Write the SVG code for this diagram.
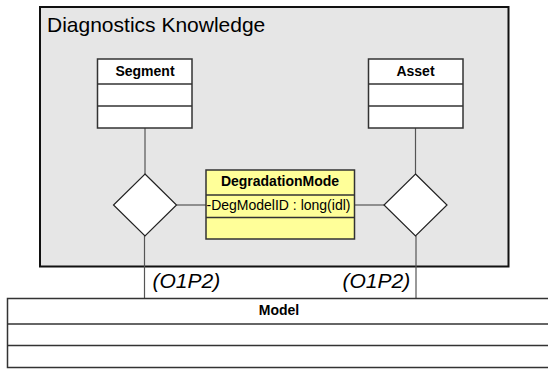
<svg xmlns="http://www.w3.org/2000/svg" width="548" height="372" viewBox="0 0 548 372">
<style>
.pkg{fill:#e6e6e6;stroke:#111;stroke-width:2}
.cls{fill:#fff;stroke:#333;stroke-width:1.5}
.yel{fill:#ffff99;stroke:#333;stroke-width:1.5}
.div{stroke:#333;stroke-width:1.5;fill:none}
.dia{fill:#fff;stroke:#222;stroke-width:1.2}
.con{stroke:#555;stroke-width:1.2;fill:none}
.t{font-family:"Liberation Sans",Arial,sans-serif;fill:#000}
.b{font-weight:bold;font-size:14px;text-anchor:middle}
</style>
<rect width="548" height="372" fill="#fff"/>
<g id="package">
<rect class="pkg" x="40" y="7" width="468.5" height="259.5"/>
<text class="t" x="47" y="32" font-size="21">Diagnostics Knowledge</text>
</g>
<g id="connectors">
<line class="con" x1="145" y1="128" x2="145" y2="174"/>
<line class="con" x1="415.5" y1="128" x2="415.5" y2="174"/>
<line class="con" x1="176.5" y1="205" x2="206" y2="205"/>
<line class="con" x1="354.5" y1="205" x2="384" y2="205"/>
<line class="con" x1="144.5" y1="236" x2="144.5" y2="298.5"/>
<line class="con" x1="416" y1="236" x2="416" y2="298.5"/>
<text class="t" x="152.5" y="288" font-size="21" font-style="italic">(O1P2)</text>
<text class="t" x="342.5" y="288" font-size="21" font-style="italic">(O1P2)</text>
</g>
<g id="Segment">
<rect class="cls" x="97.5" y="59" width="94.5" height="69"/>
<line class="div" x1="97.5" y1="84" x2="192" y2="84"/>
<line class="div" x1="97.5" y1="106" x2="192" y2="106"/>
<text class="t b" x="145" y="76">Segment</text>
</g>
<g id="Asset">
<rect class="cls" x="368.5" y="59" width="94.5" height="69"/>
<line class="div" x1="368.5" y1="84" x2="463" y2="84"/>
<line class="div" x1="368.5" y1="106" x2="463" y2="106"/>
<text class="t b" x="415.5" y="76">Asset</text>
</g>
<g id="diamond-left">
<polygon class="dia" points="145,174 176.5,205 145,236 113.5,205"/>
</g>
<g id="diamond-right">
<polygon class="dia" points="415.5,174 447,205 415.5,236 384,205"/>
</g>
<g id="DegradationMode">
<rect class="yel" x="206" y="170" width="148.5" height="69"/>
<line class="div" x1="206" y1="195" x2="354.5" y2="195"/>
<line class="div" x1="206" y1="217.5" x2="354.5" y2="217.5"/>
<text class="t b" x="280" y="186">DegradationMode</text>
<text class="t" x="206.5" y="210" font-size="14">-DegModelID : long(idl)</text>
</g>
<g id="Model">
<rect class="cls" x="7.5" y="298.5" width="545" height="69"/>
<line class="div" x1="7.5" y1="324" x2="552" y2="324"/>
<line class="div" x1="7.5" y1="345.5" x2="552" y2="345.5"/>
<text class="t b" x="279" y="315">Model</text>
</g>
</svg>
